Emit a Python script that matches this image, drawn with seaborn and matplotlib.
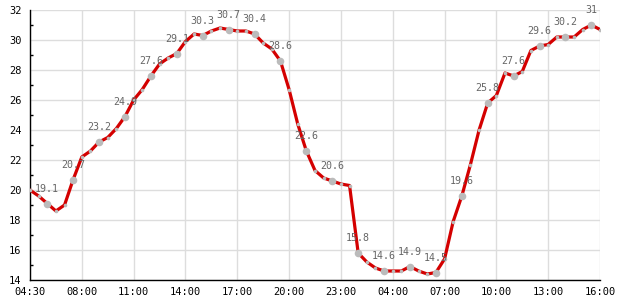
import matplotlib
matplotlib.use("Agg")
import matplotlib.pyplot as plt
import seaborn as sns
import pandas as pd
import numpy as np
from matplotlib.ticker import MultipleLocator

# Half-hourly temperature readings (one value every 30 minutes)
temperature = [
    20.0, 19.6, 19.1, 18.6, 19.0, 20.7, 22.2, 22.6, 23.2, 23.5,
    24.1, 24.9, 26.0, 26.7, 27.6, 28.4, 28.8, 29.1, 29.9, 30.4,
    30.3, 30.6, 30.8, 30.7, 30.6, 30.6, 30.4, 29.8, 29.4, 28.6,
    26.7, 24.4, 22.6, 21.3, 20.8, 20.6, 20.4, 20.3, 15.8, 15.2,
    14.8, 14.6, 14.6, 14.6, 14.9, 14.6, 14.4, 14.5, 15.4, 17.9,
    19.6, 21.7, 24.0, 25.8, 26.3, 27.8, 27.6, 27.9, 29.3, 29.6,
    29.7, 30.2, 30.2, 30.2, 30.7, 31.0, 30.7,
]
# Indices of readings that carry a value label
labeled_index = [2, 5, 8, 11, 14, 17, 20, 23, 26, 29, 32, 35, 38, 41, 44, 47,
                 50, 53, 56, 59, 62, 65]
# Axis tick labels (one every 6 readings)
tick_labels = ["04:30", "08:00", "11:00", "14:00", "17:00", "20:00", "23:00",
               "04:00", "07:00", "10:00", "13:00", "16:00"]

df = pd.DataFrame({"step": np.arange(len(temperature)), "temp": temperature})
lab = df.iloc[labeled_index]

sns.set_style("white")
plt.rcParams["font.family"] = ["DejaVu Sans Mono", "DejaVu Sans"]

fig = plt.figure(figsize=(6.2, 3.0), dpi=100)
ax = fig.add_axes([30 / 620, 1 - 280 / 300, 570 / 620, 270 / 300])

sns.lineplot(data=df, x="step", y="temp", ax=ax, color="#d40000", linewidth=2.3,
             marker="o", markersize=2.6, markerfacecolor="#bbbbbb",
             markeredgewidth=0, zorder=3)
sns.scatterplot(data=lab, x="step", y="temp", ax=ax, color="#bbbbbb", s=30,
                linewidth=0, zorder=4)

for x, y in zip(lab["step"], lab["temp"]):
    ax.annotate(f"{y:g}", (x, y), xytext=(0, 10.5), textcoords="offset points",
                ha="center", va="center", fontsize=7.2, color="#666666", zorder=5)

ax.set_xlim(0, 66)
ax.set_ylim(14, 32)
ax.set_xticks(np.arange(0, 67, 6))
ax.set_xticklabels(tick_labels)
ax.yaxis.set_major_locator(MultipleLocator(2))
ax.yaxis.set_minor_locator(MultipleLocator(1))
ax.set_xlabel("")
ax.set_ylabel("")

ax.grid(True, which="major", color="#dddddd", linewidth=1.0)
ax.set_axisbelow(True)
for side in ["top", "right"]:
    ax.spines[side].set_visible(False)
for side in ["left", "bottom"]:
    ax.spines[side].set_color("black")
    ax.spines[side].set_linewidth(1.0)

ax.tick_params(axis="both", which="major", direction="in", length=4, width=1,
               color="black", labelsize=7.5, labelcolor="black")
ax.tick_params(axis="y", which="minor", direction="in", length=2.5, width=1,
               color="black", left=True)
ax.tick_params(axis="x", pad=5)
ax.tick_params(axis="y", pad=6)

fig.savefig("out.png", dpi=100)
